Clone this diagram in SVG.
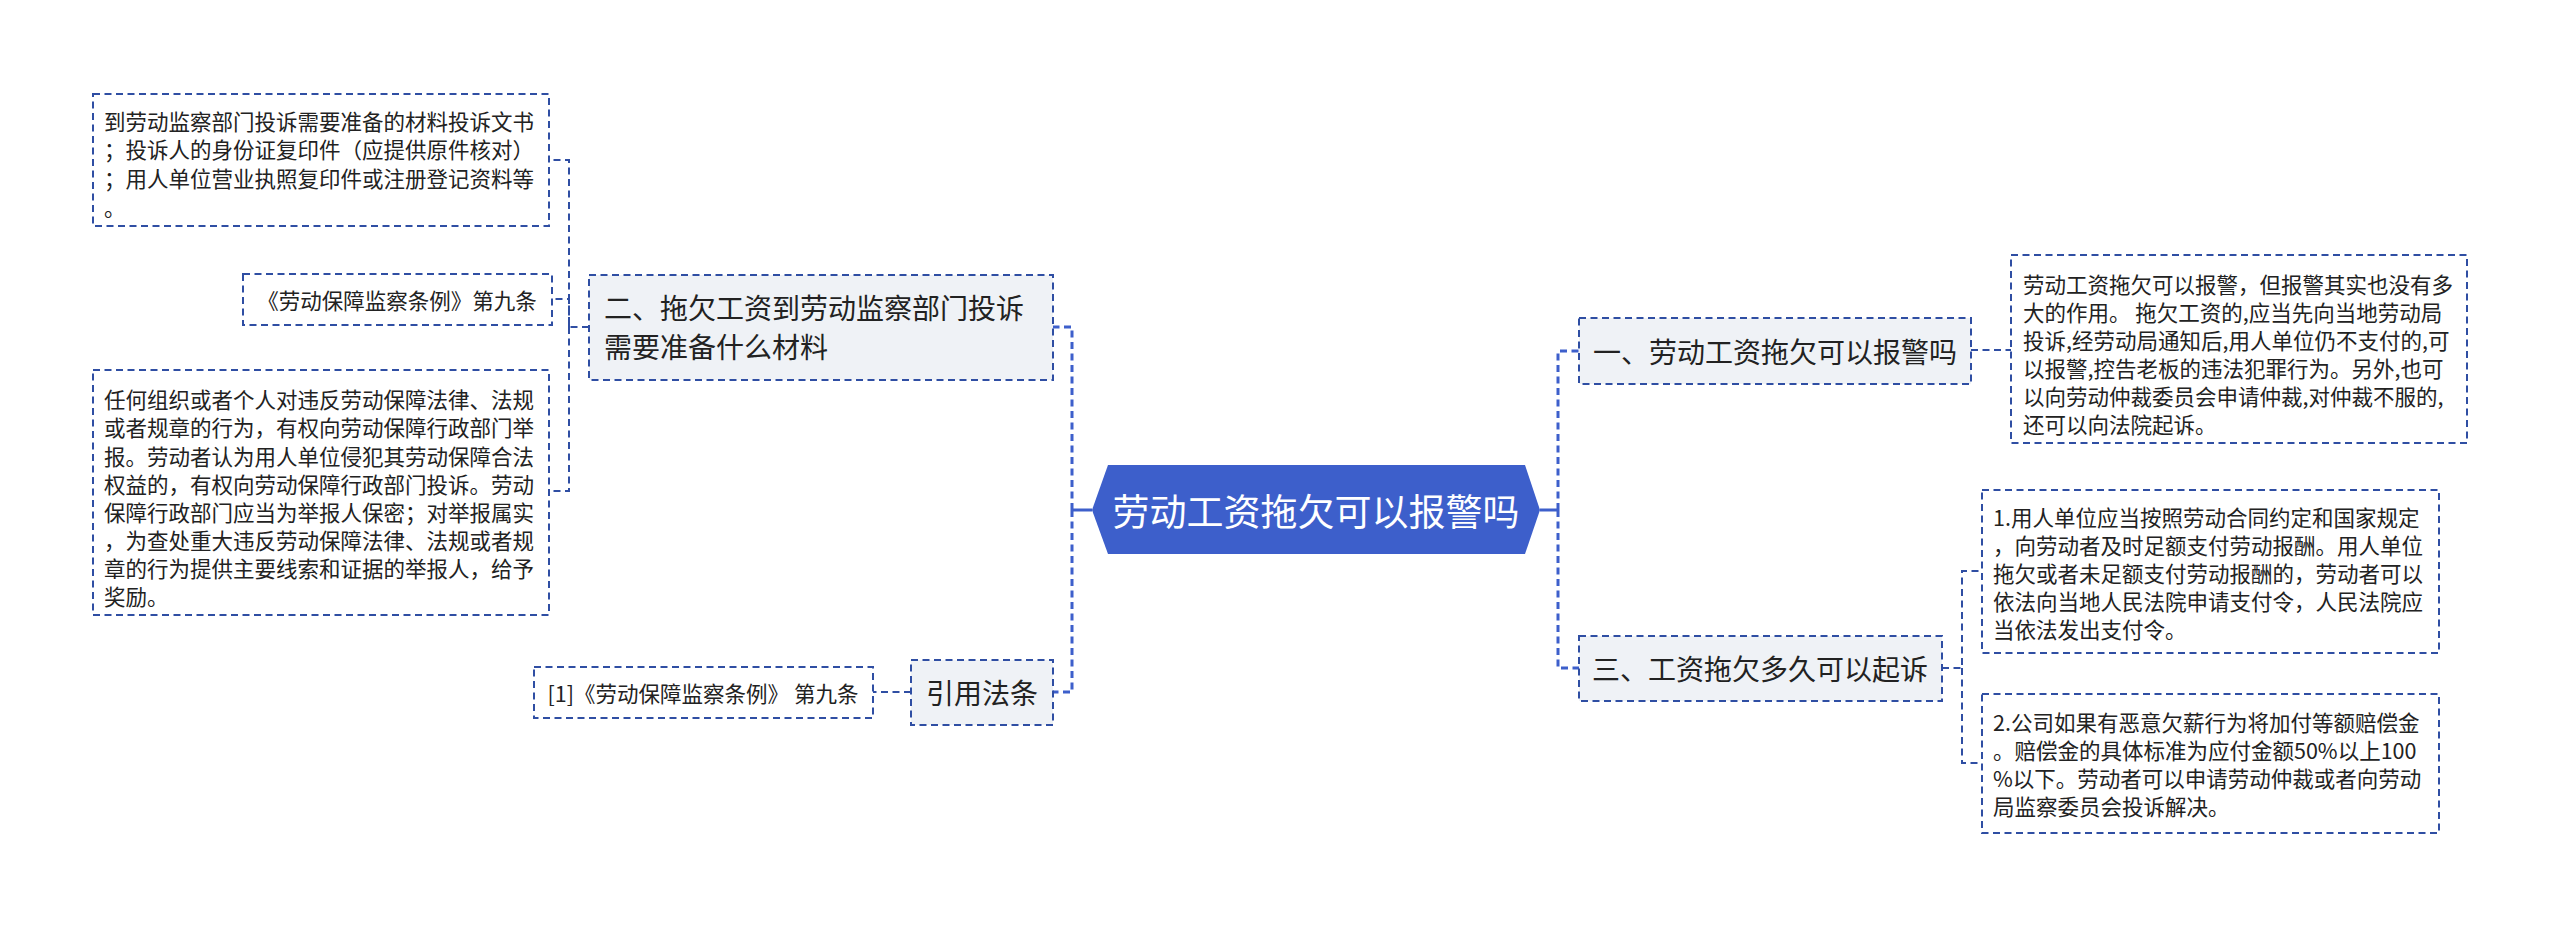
<svg xmlns="http://www.w3.org/2000/svg" width="2560" height="926" viewBox="0 0 2560 926">
<style>
.box{fill:#ffffff;stroke:#2f4ea3;stroke-width:2;stroke-dasharray:7 4.5}
.n1{fill:#eff2f6;stroke:#2f4ea3;stroke-width:2;stroke-dasharray:7 4.5}
.t{font-family:"Noto Sans CJK SC","Noto Sans",sans-serif;font-size:21.5px;fill:#222;dominant-baseline:central}
.t1{font-family:"Noto Sans CJK SC","Noto Sans",sans-serif;font-size:28px;fill:#222;dominant-baseline:central}
.tc{font-family:"Noto Sans CJK SC","Noto Sans",sans-serif;font-size:37px;fill:#ffffff;dominant-baseline:central}
.c{fill:none;stroke:#2f4ea3;stroke-width:2;stroke-dasharray:7 4.5}
.cm{fill:none;stroke:#3d5fcb;stroke-width:3;stroke-dasharray:7 4.5}
.cs{fill:none;stroke:#3d5fcb;stroke-width:3}
</style>
<rect width="2560" height="926" fill="#ffffff"/>
<g id="connectors">
<path class="cs" d="M1092 510 H1072"/>
<path class="cm" d="M1072 510 V327 H1053"/>
<path class="cm" d="M1072 510 V692 H1053"/>
<path class="cs" d="M1540 510 H1558"/>
<path class="cm" d="M1558 510 V351 H1579"/>
<path class="cm" d="M1558 510 V668 H1579"/>
<path class="c" d="M589 327 H569 V160 H549"/>
<path class="c" d="M569 327 V299 H552"/>
<path class="c" d="M569 327 V491 H549"/>
<path class="c" d="M911 692 H873"/>
<path class="c" d="M1971 350 H2011"/>
<path class="c" d="M1942 668 H1962 V571 H1982"/>
<path class="c" d="M1962 668 V763 H1982"/>
</g>
<g id="center">
<polygon points="1092,510 1108,465 1525,465 1540,510 1525,554 1108,554" fill="#3d5fcb"/>
<text class="tc" x="1316" y="510" text-anchor="middle">劳动工资拖欠可以报警吗</text>
</g>
<g id="node-er">
<rect class="n1" x="589" y="275" width="464" height="105"/>
<text class="t1" x="604"><tspan x="604" y="307">二、拖欠工资到劳动监察部门投诉</tspan><tspan x="604" y="346">需要准备什么材料</tspan></text>
</g>
<g id="node-yinyong">
<rect class="n1" x="911" y="660" width="142" height="65"/>
<text class="t1" x="982" y="692" text-anchor="middle">引用法条</text>
</g>
<g id="node-yi">
<rect class="n1" x="1579" y="318" width="392" height="66"/>
<text class="t1" x="1775" y="351" text-anchor="middle">一、劳动工资拖欠可以报警吗</text>
</g>
<g id="node-san">
<rect class="n1" x="1579" y="636" width="363" height="65"/>
<text class="t1" x="1760" y="668" text-anchor="middle">三、工资拖欠多久可以起诉</text>
</g>
<g id="box-materials">
<rect class="box" x="93" y="94" width="456" height="132"/>
<text class="t"><tspan x="104" y="120">到劳动监察部门投诉需要准备的材料投诉文书</tspan><tspan x="104" y="148">；投诉人的身份证复印件（应提供原件核对）</tspan><tspan x="104" y="177">；用人单位营业执照复印件或注册登记资料等</tspan><tspan x="104" y="206">。</tspan></text>
</g>
<g id="box-tiaoli">
<rect class="box" x="243" y="274" width="309" height="51"/>
<text class="t" x="397" y="299" text-anchor="middle">《劳动保障监察条例》第九条</text>
</g>
<g id="box-jubao">
<rect class="box" x="93" y="370" width="456" height="245"/>
<text class="t"><tspan x="104" y="398">任何组织或者个人对违反劳动保障法律、法规</tspan><tspan x="104" y="426">或者规章的行为，有权向劳动保障行政部门举</tspan><tspan x="104" y="455">报。劳动者认为用人单位侵犯其劳动保障合法</tspan><tspan x="104" y="483">权益的，有权向劳动保障行政部门投诉。劳动</tspan><tspan x="104" y="511">保障行政部门应当为举报人保密；对举报属实</tspan><tspan x="104" y="539">，为查处重大违反劳动保障法律、法规或者规</tspan><tspan x="104" y="567">章的行为提供主要线索和证据的举报人，给予</tspan><tspan x="104" y="595">奖励。</tspan></text>
</g>
<g id="box-ref">
<rect class="box" x="534" y="667" width="339" height="51"/>
<text class="t" x="703" y="692" text-anchor="middle">[1]《劳动保障监察条例》 第九条</text>
</g>
<g id="box-baojing">
<rect class="box" x="2011" y="255" width="456" height="188"/>
<text class="t"><tspan x="2023" y="283">劳动工资拖欠可以报警，但报警其实也没有多</tspan><tspan x="2023" y="311">大的作用。 拖欠工资的,应当先向当地劳动局</tspan><tspan x="2023" y="339">投诉,经劳动局通知后,用人单位仍不支付的,可</tspan><tspan x="2023" y="367">以报警,控告老板的违法犯罪行为。另外,也可</tspan><tspan x="2023" y="395">以向劳动仲裁委员会申请仲裁,对仲裁不服的,</tspan><tspan x="2023" y="423">还可以向法院起诉。</tspan></text>
</g>
<g id="box-zhifuling">
<rect class="box" x="1982" y="490" width="457" height="163"/>
<text class="t"><tspan x="1993" y="516">1.用人单位应当按照劳动合同约定和国家规定</tspan><tspan x="1993" y="544">，向劳动者及时足额支付劳动报酬。用人单位</tspan><tspan x="1993" y="572">拖欠或者未足额支付劳动报酬的，劳动者可以</tspan><tspan x="1993" y="600">依法向当地人民法院申请支付令，人民法院应</tspan><tspan x="1993" y="628">当依法发出支付令。</tspan></text>
</g>
<g id="box-peichang">
<rect class="box" x="1982" y="694" width="457" height="139"/>
<text class="t"><tspan x="1993" y="721">2.公司如果有恶意欠薪行为将加付等额赔偿金</tspan><tspan x="1993" y="749">。赔偿金的具体标准为应付金额50%以上100</tspan><tspan x="1993" y="777">%以下。劳动者可以申请劳动仲裁或者向劳动</tspan><tspan x="1993" y="805">局监察委员会投诉解决。</tspan></text>
</g>
</svg>
